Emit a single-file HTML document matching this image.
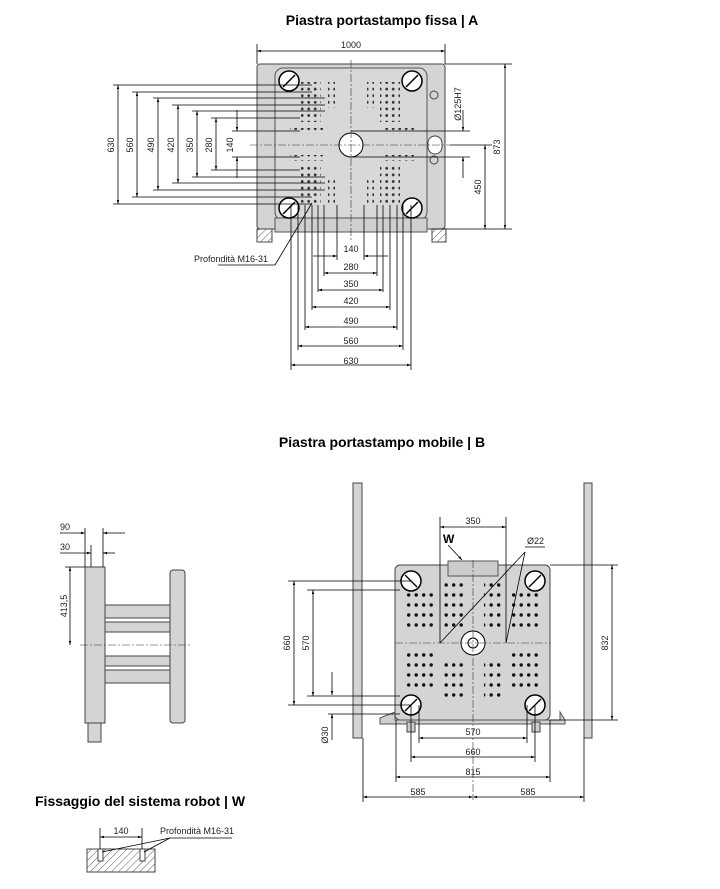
<!DOCTYPE html>
<html><head><meta charset="utf-8"><style>
body{margin:0;background:#fff;}
svg{display:block;font-family:"Liberation Sans",sans-serif;}
.t{font-weight:bold;font-size:14px;fill:#000}
.d{font-size:9px;fill:#222}
.l{stroke:#000;stroke-width:0.8;fill:none}
.p{fill:#d4d4d4;stroke:#444;stroke-width:1}
</style></head><body>
<svg width="720" height="889" viewBox="0 0 720 889" xmlns="http://www.w3.org/2000/svg">
<defs>
<marker id="a" viewBox="0 0 10 10" refX="10" refY="5" markerWidth="7" markerHeight="5" orient="auto-start-reverse"><path d="M0,2 L10,5 L0,8z" fill="#000"/></marker>
<pattern id="dots" width="6.5" height="6.6" patternUnits="userSpaceOnUse"><circle cx="3.2" cy="3.3" r="1.4" fill="#333"/></pattern>
<pattern id="dots2" width="7.5" height="10" patternUnits="userSpaceOnUse"><circle cx="3.7" cy="5" r="1.7" fill="#111"/></pattern>
<pattern id="h" width="5" height="5" patternUnits="userSpaceOnUse" patternTransform="rotate(45)"><line x1="0" y1="0" x2="0" y2="5" stroke="#333" stroke-width="0.8"/></pattern>
</defs>

<!-- ===== A ===== -->
<text class="t" x="382" y="25" text-anchor="middle">Piastra portastampo fissa | A</text>
<rect x="257" y="64" width="188" height="165" class="p" rx="3"/>
<rect x="275" y="68" width="152" height="152" fill="#d8d8d8" stroke="#555" rx="8"/>
<rect x="275" y="218" width="152" height="14" fill="#d0d0d0" stroke="#555"/>
<rect x="257" y="229" width="15" height="13" fill="url(#h)" stroke="#444"/>
<rect x="432" y="229" width="14" height="13" fill="url(#h)" stroke="#444"/>
<rect x="301" y="82" width="20" height="40" fill="url(#dots)"/>
<rect x="328" y="82" width="7" height="26" fill="url(#dots)"/>
<rect x="380" y="82" width="20" height="40" fill="url(#dots)"/>
<rect x="367" y="82" width="7" height="26" fill="url(#dots)"/>
<rect x="301" y="166" width="20" height="40" fill="url(#dots)"/>
<rect x="328" y="180" width="7" height="26" fill="url(#dots)"/>
<rect x="380" y="166" width="20" height="40" fill="url(#dots)"/>
<rect x="367" y="180" width="7" height="26" fill="url(#dots)"/>
<rect x="290" y="128" width="33" height="6" fill="url(#dots)"/>
<rect x="382" y="128" width="33" height="6" fill="url(#dots)"/>
<rect x="290" y="155" width="33" height="6" fill="url(#dots)"/>
<rect x="382" y="155" width="33" height="6" fill="url(#dots)"/>
<g fill="#fff" stroke="#000" stroke-width="1.5">
<circle cx="289" cy="81" r="10"/><circle cx="412" cy="81" r="10"/><circle cx="289" cy="208" r="10"/><circle cx="412" cy="208" r="10"/>
</g>
<g stroke="#000" stroke-width="1.5"><line x1="283" y1="87" x2="295" y2="75"/><line x1="406" y1="87" x2="418" y2="75"/><line x1="283" y1="214" x2="295" y2="202"/><line x1="406" y1="214" x2="418" y2="202"/></g>
<circle cx="351" cy="145" r="12" fill="#fff" stroke="#000"/>
<rect x="428" y="136" width="14" height="18" rx="7" fill="#fff" stroke="#444"/>
<circle cx="434" cy="95" r="4" fill="none" stroke="#444"/><circle cx="434" cy="160" r="4" fill="none" stroke="#444"/>
<line x1="351" y1="60" x2="351" y2="240" stroke="#333" stroke-width="0.6" stroke-dasharray="8,2,2,2"/>
<line x1="250" y1="145" x2="450" y2="145" stroke="#333" stroke-width="0.6" stroke-dasharray="8,2,2,2"/>
<line class="l" x1="257" y1="44" x2="257" y2="64"/><line class="l" x1="445" y1="44" x2="445" y2="64"/>
<line class="l" x1="257" y1="51" x2="445" y2="51" marker-start="url(#a)" marker-end="url(#a)"/>
<text class="d" x="351" y="48" text-anchor="middle">1000</text>
<g class="l">
<line x1="113" y1="85" x2="312" y2="85"/><line x1="113" y1="204" x2="312" y2="204"/>
<line x1="132" y1="92" x2="312" y2="92"/><line x1="132" y1="197" x2="312" y2="197"/>
<line x1="153" y1="98" x2="325" y2="98"/><line x1="153" y1="190" x2="325" y2="190"/>
<line x1="172" y1="105" x2="325" y2="105"/><line x1="172" y1="183" x2="325" y2="183"/>
<line x1="192" y1="111" x2="325" y2="111"/><line x1="192" y1="177" x2="325" y2="177"/>
<line x1="211" y1="118" x2="300" y2="118"/><line x1="211" y1="170" x2="300" y2="170"/>
<line x1="232" y1="131" x2="300" y2="131"/><line x1="232" y1="157" x2="300" y2="157"/>
<line x1="118" y1="85" x2="118" y2="204" marker-start="url(#a)" marker-end="url(#a)"/>
<line x1="137" y1="92" x2="137" y2="197" marker-start="url(#a)" marker-end="url(#a)"/>
<line x1="158" y1="98" x2="158" y2="190" marker-start="url(#a)" marker-end="url(#a)"/>
<line x1="178" y1="105" x2="178" y2="183" marker-start="url(#a)" marker-end="url(#a)"/>
<line x1="197" y1="111" x2="197" y2="177" marker-start="url(#a)" marker-end="url(#a)"/>
<line x1="216" y1="118" x2="216" y2="170" marker-start="url(#a)" marker-end="url(#a)"/>
<line x1="237" y1="110" x2="237" y2="131" marker-end="url(#a)"/><line x1="237" y1="178" x2="237" y2="157" marker-end="url(#a)"/>
</g>
<g class="d">
<text transform="translate(114,145) rotate(-90)" text-anchor="middle">630</text>
<text transform="translate(133,145) rotate(-90)" text-anchor="middle">560</text>
<text transform="translate(154,145) rotate(-90)" text-anchor="middle">490</text>
<text transform="translate(174,145) rotate(-90)" text-anchor="middle">420</text>
<text transform="translate(193,145) rotate(-90)" text-anchor="middle">350</text>
<text transform="translate(212,145) rotate(-90)" text-anchor="middle">280</text>
<text transform="translate(233,145) rotate(-90)" text-anchor="middle">140</text>
</g>
<g class="l">
<line x1="351" y1="131" x2="470" y2="131"/><line x1="351" y1="157" x2="470" y2="157"/>
<line x1="463" y1="110" x2="463" y2="131" marker-end="url(#a)"/><line x1="463" y1="178" x2="463" y2="157" marker-end="url(#a)"/>
<line x1="445" y1="64" x2="512" y2="64"/><line x1="432" y1="229" x2="512" y2="229"/><line x1="450" y1="145" x2="492" y2="145"/>
<line x1="505" y1="64" x2="505" y2="229" marker-start="url(#a)" marker-end="url(#a)"/>
<line x1="485" y1="145" x2="485" y2="229" marker-start="url(#a)" marker-end="url(#a)"/>
</g>
<g class="d">
<text transform="translate(461,104) rotate(-90)" text-anchor="middle">Ø125H7</text>
<text transform="translate(500,147) rotate(-90)" text-anchor="middle">873</text>
<text transform="translate(481,187) rotate(-90)" text-anchor="middle">450</text>
</g>
<g class="l">
<line x1="291" y1="205" x2="291" y2="370"/><line x1="411" y1="205" x2="411" y2="370"/>
<line x1="298" y1="205" x2="298" y2="350"/><line x1="403" y1="205" x2="403" y2="350"/>
<line x1="305" y1="205" x2="305" y2="330"/><line x1="397" y1="205" x2="397" y2="330"/>
<line x1="312" y1="205" x2="312" y2="310"/><line x1="390" y1="205" x2="390" y2="310"/>
<line x1="318" y1="205" x2="318" y2="292"/><line x1="383" y1="205" x2="383" y2="292"/>
<line x1="324" y1="205" x2="324" y2="276"/><line x1="377" y1="205" x2="377" y2="276"/>
<line x1="337" y1="205" x2="337" y2="260"/><line x1="364" y1="205" x2="364" y2="260"/>
<line x1="291" y1="365" x2="411" y2="365" marker-start="url(#a)" marker-end="url(#a)"/>
<line x1="298" y1="346" x2="403" y2="346" marker-start="url(#a)" marker-end="url(#a)"/>
<line x1="305" y1="327" x2="397" y2="327" marker-start="url(#a)" marker-end="url(#a)"/>
<line x1="312" y1="307" x2="390" y2="307" marker-start="url(#a)" marker-end="url(#a)"/>
<line x1="318" y1="290" x2="383" y2="290" marker-start="url(#a)" marker-end="url(#a)"/>
<line x1="324" y1="273" x2="377" y2="273" marker-start="url(#a)" marker-end="url(#a)"/>
<line x1="313" y1="256" x2="337" y2="256" marker-end="url(#a)"/><line x1="388" y1="256" x2="364" y2="256" marker-end="url(#a)"/>
<line x1="218" y1="265" x2="275" y2="265"/><line x1="275" y1="265" x2="312" y2="203"/>
</g>
<g class="d" text-anchor="middle">
<text x="351" y="252">140</text><text x="351" y="270">280</text><text x="351" y="287">350</text>
<text x="351" y="304">420</text><text x="351" y="324">490</text><text x="351" y="344">560</text><text x="351" y="364">630</text>
</g>
<text class="d" x="194" y="262">Profondità M16-31</text>

<!-- ===== B ===== -->
<text class="t" x="382" y="447" text-anchor="middle">Piastra portastampo mobile | B</text>
<rect x="353" y="483" width="9" height="255" class="p"/>
<rect x="584" y="483" width="8" height="255" class="p"/>
<rect x="395" y="565" width="155" height="155" class="p" rx="5"/>
<path d="M380,718 L395,712 L395,720 L560,720 L560,712 L565,720 L565,724 L380,724z" fill="#d0d0d0" stroke="#555"/>
<rect x="448" y="561" width="50" height="15" fill="#ccc" stroke="#555"/>
<rect x="407" y="590" width="30" height="38" fill="url(#dots2)"/>
<rect x="443" y="580" width="20" height="48" fill="url(#dots2)"/>
<rect x="484" y="580" width="20" height="48" fill="url(#dots2)"/>
<rect x="509" y="590" width="30" height="38" fill="url(#dots2)"/>
<rect x="407" y="652" width="30" height="38" fill="url(#dots2)"/>
<rect x="443" y="660" width="20" height="40" fill="url(#dots2)"/>
<rect x="484" y="660" width="20" height="40" fill="url(#dots2)"/>
<rect x="509" y="652" width="30" height="38" fill="url(#dots2)"/>
<g fill="#fff" stroke="#000" stroke-width="1.5">
<circle cx="411" cy="581" r="10"/><circle cx="535" cy="581" r="10"/><circle cx="411" cy="705" r="10"/><circle cx="535" cy="705" r="10"/>
</g>
<g stroke="#000" stroke-width="1.3"><line x1="405" y1="575" x2="417" y2="587"/><line x1="529" y1="587" x2="541" y2="575"/><line x1="405" y1="711" x2="417" y2="699"/><line x1="529" y1="711" x2="541" y2="699"/></g>
<circle cx="473" cy="643" r="12" fill="#fff" stroke="#000"/><circle cx="473" cy="643" r="5" fill="#fff" stroke="#000"/>
<line x1="473" y1="560" x2="473" y2="800" stroke="#333" stroke-width="0.6" stroke-dasharray="8,2,2,2"/>
<line x1="395" y1="643" x2="550" y2="643" stroke="#333" stroke-width="0.6" stroke-dasharray="8,2,2,2"/>
<rect x="407" y="722" width="8" height="10" fill="#ccc" stroke="#444"/><rect x="532" y="722" width="8" height="10" fill="#ccc" stroke="#444"/>
<g class="l">
<line x1="440" y1="517" x2="440" y2="643"/><line x1="506" y1="517" x2="506" y2="643"/>
<line x1="440" y1="527" x2="506" y2="527" marker-start="url(#a)" marker-end="url(#a)"/>
<line x1="440" y1="643" x2="525" y2="552"/><line x1="506" y1="643" x2="525" y2="552"/><line x1="525" y1="547" x2="545" y2="547"/>
<line x1="448" y1="545" x2="462" y2="560" marker-end="url(#a)"/>
<line x1="288" y1="581" x2="411" y2="581"/><line x1="288" y1="705" x2="411" y2="705"/>
<line x1="307" y1="590" x2="400" y2="590"/><line x1="307" y1="696" x2="400" y2="696"/>
<line x1="294" y1="581" x2="294" y2="705" marker-start="url(#a)" marker-end="url(#a)"/>
<line x1="313" y1="590" x2="313" y2="696" marker-start="url(#a)" marker-end="url(#a)"/>
<line x1="332" y1="672" x2="332" y2="695" marker-end="url(#a)"/><line x1="332" y1="740" x2="332" y2="714" marker-end="url(#a)"/>
<line x1="328" y1="714" x2="400" y2="714"/>
<line x1="550" y1="565" x2="618" y2="565"/><line x1="550" y1="720" x2="618" y2="720"/>
<line x1="612" y1="565" x2="612" y2="720" marker-start="url(#a)" marker-end="url(#a)"/>
<line x1="419" y1="705" x2="419" y2="743"/><line x1="527" y1="705" x2="527" y2="743"/>
<line x1="411" y1="705" x2="411" y2="762"/><line x1="535" y1="705" x2="535" y2="762"/>
<line x1="396" y1="720" x2="396" y2="782"/><line x1="550" y1="720" x2="550" y2="782"/>
<line x1="363" y1="738" x2="363" y2="802"/><line x1="584" y1="738" x2="584" y2="802"/>
<line x1="419" y1="738" x2="527" y2="738" marker-start="url(#a)" marker-end="url(#a)"/>
<line x1="411" y1="757" x2="535" y2="757" marker-start="url(#a)" marker-end="url(#a)"/>
<line x1="396" y1="777" x2="550" y2="777" marker-start="url(#a)" marker-end="url(#a)"/>
<line x1="363" y1="797" x2="473" y2="797" marker-start="url(#a)" marker-end="url(#a)"/>
<line x1="473" y1="797" x2="584" y2="797" marker-start="url(#a)" marker-end="url(#a)"/>
</g>
<text class="d" x="473" y="524" text-anchor="middle">350</text>
<text x="443" y="543" font-weight="bold" font-size="12">W</text>
<text class="d" x="527" y="544">Ø22</text>
<g class="d" text-anchor="middle">
<text transform="translate(290,643) rotate(-90)">660</text>
<text transform="translate(309,643) rotate(-90)">570</text>
<text transform="translate(328,735) rotate(-90)">Ø30</text>
<text transform="translate(608,643) rotate(-90)">832</text>
<text x="473" y="735">570</text><text x="473" y="755">660</text><text x="473" y="775">815</text>
<text x="418" y="795">585</text><text x="528" y="795">585</text>
</g>

<!-- side view -->
<rect x="85" y="567" width="20" height="156" class="p"/>
<rect x="88" y="723" width="13" height="19" class="p"/>
<rect x="170" y="570" width="15" height="153" class="p" rx="3"/>
<rect x="105" y="605" width="65" height="13" class="p"/>
<rect x="105" y="622" width="65" height="10" class="p"/>
<rect x="105" y="656" width="65" height="10" class="p"/>
<rect x="105" y="670" width="65" height="13" class="p"/>
<line x1="80" y1="645" x2="190" y2="645" stroke="#333" stroke-width="0.6" stroke-dasharray="8,2,2,2"/>
<g class="l">
<line x1="85" y1="528" x2="85" y2="567"/><line x1="103" y1="528" x2="103" y2="567"/><line x1="91" y1="545" x2="91" y2="567"/>
<line x1="60" y1="533" x2="85" y2="533" marker-end="url(#a)"/><line x1="125" y1="533" x2="103" y2="533" marker-end="url(#a)"/>
<line x1="60" y1="553" x2="91" y2="553" marker-end="url(#a)"/><line x1="115" y1="553" x2="103" y2="553" marker-end="url(#a)"/>
<line x1="65" y1="567" x2="85" y2="567"/>
<line x1="70" y1="567" x2="70" y2="645" marker-start="url(#a)" marker-end="url(#a)"/>
</g>
<text class="d" x="60" y="530">90</text><text class="d" x="60" y="550">30</text>
<text class="d" transform="translate(67,606) rotate(-90)" text-anchor="middle">413,5</text>

<!-- W -->
<text class="t" x="35" y="806">Fissaggio del sistema robot | W</text>
<rect x="87" y="849" width="68" height="23" fill="url(#h)" stroke="#444"/>
<rect x="98" y="849" width="5" height="12" fill="#fff" stroke="#444"/><rect x="140" y="849" width="5" height="12" fill="#fff" stroke="#444"/>
<g class="l">
<line x1="100" y1="828" x2="100" y2="849"/><line x1="142" y1="828" x2="142" y2="849"/>
<line x1="100" y1="837" x2="142" y2="837" marker-start="url(#a)" marker-end="url(#a)"/>
<line x1="102" y1="852" x2="170" y2="838"/><line x1="144" y1="852" x2="170" y2="838"/><line x1="170" y1="838" x2="232" y2="838"/>
</g>
<text class="d" x="121" y="834" text-anchor="middle">140</text>
<text class="d" x="160" y="834">Profondità M16-31</text>
</svg>
</body></html>
